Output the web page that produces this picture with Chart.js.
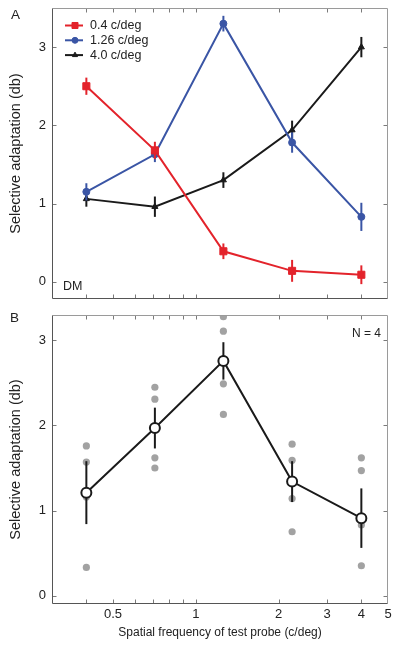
<!DOCTYPE html>
<html>
<head>
<meta charset="utf-8">
<script src="https://cdn.jsdelivr.net/npm/chart.js@4.4.0/dist/chart.umd.min.js"></script>
<style>
  html, body { margin: 0; padding: 0; background: #fff; }
  #wrap { position: relative; width: 400px; height: 646px; }
  canvas { position: absolute; left: 0; }
  #chartA { top: 0; }
  #chartB { top: 306px; }
</style>
</head>
<body>
<div id="wrap">
  <canvas id="chartA" width="400" height="306"></canvas>
  <canvas id="chartB" width="400" height="340"></canvas>
</div>
<script>
// frecuencias espaciales de prueba (c/deg)
const freqs = [0.4, 0.71, 1.26, 2.24, 4.0];
const xTicks = [0.3, 0.4, 0.5, 0.6, 0.7, 0.8, 0.9, 1, 2, 3, 4, 5];
const xTickLabels = { '0.5': '0.5', '1': '1', '2': '2', '3': '3', '4': '4', '5': '5' };
const yTicks = [0, 1, 2, 3];

// Panel A (observador DM): una serie por frecuencia de adaptacion
const legendLabels = ['0.4 c/deg', '1.26 c/deg', '4.0 c/deg'];
const adapt04 = [2.50, 1.68, 0.39, 0.14, 0.09];
const err04 = [0.11, 0.11, 0.10, 0.14, 0.12];
const adapt126 = [1.15, 1.63, 3.30, 1.78, 0.83];
const err126 = [0.11, 0.10, 0.10, 0.13, 0.18];
const adapt40 = [1.06, 0.96, 1.30, 1.94, 3.00];
const err40 = [0.10, 0.13, 0.10, 0.12, 0.13];

// Panel B (N = 4): media y sujetos individuales
const meanAdapt = [1.21, 1.97, 2.76, 1.34, 0.91];
const meanErr = [0.37, 0.24, 0.22, 0.24, 0.35];
const subj1 = [1.76, 2.45, 3.28, 1.78, 1.62];
const subj2 = [1.57, 2.31, 3.11, 1.59, 1.47];
const subj3 = [1.16, 1.62, 2.49, 1.14, 0.83];
const subj4 = [0.33, 1.50, 2.13, 0.75, 0.35];

const FONT = "'Liberation Sans', Arial, Helvetica, sans-serif";
const TEXT = '#222';

const pts = ys => ys.map((y, i) => ({ x: freqs[i], y: y }));

// barras de error verticales, dibujadas justo antes de cada serie
const errorBars = {
  id: 'errorBars',
  beforeDatasetDraw(chart, args) {
    const ds = chart.data.datasets[args.index];
    if (!ds.errors) return;
    const xs = chart.scales.x, ys = chart.scales.y, ctx = chart.ctx;
    ctx.save();
    ctx.strokeStyle = ds.errorColor || ds.borderColor;
    ctx.lineWidth = 2;
    ds.data.forEach((p, i) => {
      const px = xs.getPixelForValue(p.x);
      ctx.beginPath();
      ctx.moveTo(px, ys.getPixelForValue(p.y - ds.errors[i]));
      ctx.lineTo(px, ys.getPixelForValue(p.y + ds.errors[i]));
      ctx.stroke();
    });
    ctx.restore();
  }
};

// marco tipo MATLAB con marcas hacia dentro
const frame = {
  id: 'frame',
  afterDraw(chart) {
    const ctx = chart.ctx, a = chart.chartArea;
    const xs = chart.scales.x, ys = chart.scales.y;
    const L = Math.round(a.left) + 0.5, R = Math.round(a.right) - 0.5;
    const T = Math.round(a.top) + 0.5, B = Math.round(a.bottom) - 0.5;
    ctx.save();
    ctx.lineWidth = 1;
    ctx.strokeStyle = '#7a7a7a';
    ctx.beginPath();
    xTicks.forEach(v => {
      if (v <= 0.3 || v >= 5) return;
      const px = Math.round(xs.getPixelForValue(v)) + 0.5;
      ctx.moveTo(px, B); ctx.lineTo(px, B - 4);
      ctx.moveTo(px, T); ctx.lineTo(px, T + 4);
    });
    yTicks.forEach(v => {
      const py = Math.round(ys.getPixelForValue(v)) + 0.5;
      ctx.moveTo(L, py); ctx.lineTo(L + 4, py);
      ctx.moveTo(R, py); ctx.lineTo(R - 4, py);
    });
    ctx.stroke();
    ctx.strokeStyle = '#9a9a9a';
    ctx.beginPath();
    ctx.moveTo(L, T); ctx.lineTo(R, T); ctx.lineTo(R, B);
    ctx.stroke();
    ctx.strokeStyle = '#555';
    ctx.beginPath();
    ctx.moveTo(L, T); ctx.lineTo(L, B); ctx.lineTo(R, B);
    ctx.stroke();
    ctx.restore();
  }
};

// textos sueltos (letra del panel, DM, N = 4)
const notes = {
  id: 'notes',
  afterDraw(chart, args, opts) {
    const ctx = chart.ctx;
    (opts.items || []).forEach(n => {
      ctx.save();
      ctx.font = n.font;
      ctx.fillStyle = TEXT;
      ctx.textAlign = n.align || 'left';
      ctx.textBaseline = 'alphabetic';
      ctx.fillText(n.text, n.x, n.y);
      ctx.restore();
    });
  }
};

// leyenda dentro del area del grafico
const insetLegend = {
  id: 'insetLegend',
  afterDraw(chart, args, opts) {
    if (!opts.show) return;
    const ctx = chart.ctx;
    chart.data.datasets.forEach((ds, i) => {
      const y = opts.y + i * opts.step;
      ctx.save();
      ctx.strokeStyle = ds.borderColor;
      ctx.fillStyle = ds.borderColor;
      ctx.lineWidth = 2;
      ctx.beginPath();
      ctx.moveTo(opts.x, y); ctx.lineTo(opts.x + 18, y);
      ctx.stroke();
      ctx.lineWidth = 1;
      Chart.helpers.drawPoint(ctx, { pointStyle: ds.pointStyle, radius: ds.pointRadius * 0.85, borderWidth: 1, rotation: 0 }, opts.x + 10, y);
      ctx.font = '12.5px ' + FONT;
      ctx.fillStyle = TEXT;
      ctx.textBaseline = 'middle';
      ctx.fillText(ds.label, opts.x + 25, y + 0.5);
      ctx.restore();
    });
  }
};

function buildScales(yMin, yMax, showX) {
  return {
    x: {
      type: 'logarithmic',
      min: 0.3,
      max: 5,
      afterBuildTicks: s => { s.ticks = xTicks.map(v => ({ value: v })); },
      ticks: {
        display: showX,
        autoSkip: false,
        maxRotation: 0,
        padding: 3,
        color: TEXT,
        font: { family: FONT, size: 13 },
        callback: v => xTickLabels[String(v)] || ''
      },
      grid: { display: false, drawTicks: false },
      border: { display: false },
      title: {
        display: showX,
        text: 'Spatial frequency of test probe (c/deg)',
        color: TEXT,
        font: { family: FONT, size: 12 },
        padding: { top: 0, bottom: 6 }
      },
      afterFit: s => { s.height = showX ? 42 : 0; s.paddingLeft = 0; s.paddingRight = 0; }
    },
    y: {
      min: yMin,
      max: yMax,
      afterBuildTicks: s => { s.ticks = yTicks.map(v => ({ value: v })); },
      ticks: { padding: 6, color: TEXT, font: { family: FONT, size: 13 } },
      grid: { display: false, drawTicks: false },
      border: { display: false },
      title: {
        display: true,
        text: 'Selective adaptation (db)',
        color: TEXT,
        font: { family: FONT, size: 14.5 },
        padding: { top: 7, bottom: 0 }
      },
      afterFit: s => { s.width = 52; s.paddingTop = 0; s.paddingBottom = 0; }
    }
  };
}

function seriesA(label, ys, errs, color, style, radius) {
  return {
    label: label,
    data: pts(ys),
    errors: errs,
    borderColor: color,
    backgroundColor: color,
    pointBackgroundColor: color,
    pointBorderColor: color,
    pointBorderWidth: 1,
    pointStyle: style,
    pointRadius: radius,
    borderWidth: 2,
    tension: 0
  };
}

const commonPlugins = {
  legend: { display: false },
  tooltip: { enabled: false }
};

new Chart(document.getElementById('chartA'), {
  type: 'line',
  data: {
    datasets: [
      seriesA(legendLabels[0], adapt04, err04, '#e3232b', 'rect', 5),
      seriesA(legendLabels[1], adapt126, err126, '#3a55a5', 'circle', 3.5),
      seriesA(legendLabels[2], adapt40, err40, '#1a1a1a', 'triangle', 3.5)
    ]
  },
  options: {
    responsive: false,
    animation: false,
    layout: { autoPadding: false, padding: { top: 8, right: 12, bottom: 7, left: 0 } },
    scales: buildScales(-0.22, 3.5, false),
    plugins: Object.assign({}, commonPlugins, {
      insetLegend: { show: true, x: 65, y: 25.5, step: 14.8 },
      notes: { items: [
        { text: 'A', x: 11, y: 19, font: '13.5px ' + FONT },
        { text: 'DM', x: 63, y: 290, font: '12.5px ' + FONT }
      ] }
    })
  },
  plugins: [errorBars, frame, notes, insetLegend]
});

function grayDots(ys) {
  return {
    data: pts(ys),
    showLine: false,
    pointRadius: 3.6,
    pointBorderWidth: 0,
    pointBackgroundColor: '#a2a2a2',
    borderColor: '#a2a2a2',
    clip: 0
  };
}

new Chart(document.getElementById('chartB'), {
  type: 'line',
  data: {
    datasets: [
      {
        data: pts(meanAdapt),
        errors: meanErr,
        errorColor: '#1a1a1a',
        borderColor: '#1a1a1a',
        borderWidth: 2,
        pointRadius: 5,
        pointBorderWidth: 2,
        pointBackgroundColor: '#fff',
        pointBorderColor: '#1a1a1a',
        tension: 0
      },
      grayDots(subj1),
      grayDots(subj2),
      grayDots(subj3),
      grayDots(subj4)
    ]
  },
  options: {
    responsive: false,
    animation: false,
    layout: { autoPadding: false, padding: { top: 9, right: 12, bottom: 0, left: 0 } },
    scales: buildScales(-0.1, 3.3, true),
    plugins: Object.assign({}, commonPlugins, {
      insetLegend: { show: false },
      notes: { items: [
        { text: 'B', x: 10, y: 16, font: '13.5px ' + FONT },
        { text: 'N = 4', x: 381, y: 31, font: '12px ' + FONT, align: 'right' }
      ] }
    })
  },
  plugins: [errorBars, frame, notes, insetLegend]
});
</script>
</body>
</html>
